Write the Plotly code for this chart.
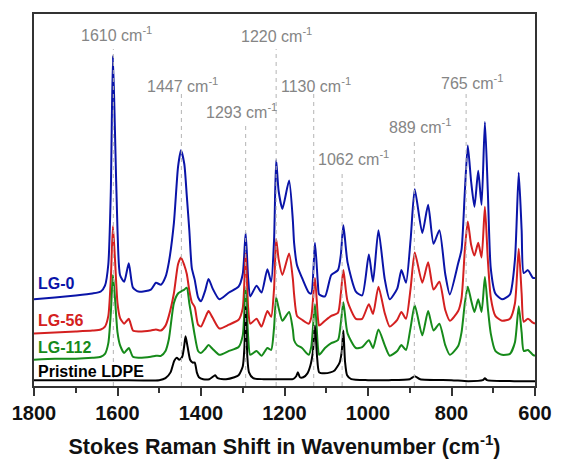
import plotly.graph_objects as go

# Raman shift grid (cm^-1) shared by the LG spectra
wn = [1800, 1750, 1700, 1660, 1640, 1630, 1622, 1616, 1611, 1606, 1600, 1594, 1584, 1573, 1563, 1550,
      1520, 1508, 1496, 1485, 1477, 1465, 1455, 1448, 1440, 1434, 1428, 1422, 1415, 1407, 1400, 1390,
      1382, 1372, 1356, 1333, 1310, 1300, 1293, 1287, 1282, 1267, 1255, 1241, 1232, 1225, 1220, 1214,
      1205, 1189, 1180, 1177, 1170, 1158, 1142, 1136, 1127, 1120, 1117, 1103, 1088, 1072, 1065, 1059,
      1049, 1029, 1014, 998, 988, 975, 960, 948, 930, 920, 909, 898, 888, 870, 856, 843,
      829, 815, 804, 784, 776, 768, 761, 753, 745, 736, 728, 720, 713, 706, 695, 679,
      660, 648, 639, 632, 627, 617, 605, 600]

lg0 = [89, 91, 93, 95, 97, 103, 125, 200, 339, 260, 160, 114, 107, 126, 101, 97,
       99, 106, 104, 112, 127, 167, 225, 242, 228, 195, 160, 121, 109, 91, 87, 98,
       110, 100, 89, 96, 102, 115, 157, 110, 92, 103, 96, 120, 107, 150, 232, 200,
       182, 211, 170, 147, 124, 111, 96, 95, 147, 105, 94, 92, 114, 119, 135, 165,
       127, 97, 93, 135, 107, 160, 110, 89, 100, 119, 106, 150, 202, 157, 186, 146,
       160, 115, 94, 126, 140, 200, 247, 210, 184, 221, 186, 271, 200, 121, 95, 89,
       94, 130, 219, 160, 116, 119, 111, 111]

lg56 = [54, 55, 56, 57, 58, 61, 72, 110, 164, 130, 85, 70, 64, 69, 57, 56,
        57, 58, 57, 62, 72, 95, 125, 132, 124, 115, 98, 86, 81, 63, 61, 70,
        77, 70, 59, 63, 68, 80, 136, 80, 64, 69, 61, 77, 71, 100, 151, 130,
        114, 136, 110, 94, 72, 68, 64, 70, 111, 70, 62, 67, 72, 75, 95, 119,
        87, 69, 69, 84, 74, 102, 75, 61, 68, 76, 69, 100, 137, 106, 127, 99,
        107, 78, 67, 77, 90, 140, 169, 145, 134, 147, 132, 184, 130, 91, 72, 67,
        69, 85, 141, 95, 66, 69, 65, 64]

lg112 = [27, 28, 28, 29, 30, 33, 44, 75, 114, 90, 55, 42, 34, 39, 30, 29,
         30, 31, 31, 36, 48, 85, 95, 97, 99, 101, 85, 70, 52, 36, 34, 38,
         42, 38, 32, 36, 40, 52, 101, 50, 32, 36, 31, 39, 37, 60, 91, 80,
         67, 76, 58, 47, 42, 39, 32, 40, 84, 40, 32, 39, 44, 47, 65, 86,
         54, 39, 40, 47, 39, 58, 42, 31, 36, 42, 37, 60, 83, 52, 77, 57,
         64, 42, 32, 41, 55, 85, 102, 88, 76, 89, 76, 112, 80, 54, 36, 32,
         33, 45, 82, 55, 36, 37, 32, 31]

# Pristine LDPE spectrum
wn_ldpe = [1800, 1700, 1600, 1500, 1485, 1473, 1464, 1458, 1452, 1445, 1440, 1437, 1432, 1426, 1420, 1415,
           1410, 1405, 1395, 1380, 1370, 1366, 1360, 1340, 1320, 1310, 1300, 1296, 1293, 1289, 1285, 1275,
           1250, 1200, 1180, 1172, 1168, 1163, 1155, 1145, 1138, 1132, 1127, 1122, 1117, 1105, 1090, 1080,
           1068, 1063, 1059, 1055, 1050, 1040, 1000, 950, 900, 888, 875, 800, 760, 725, 720, 715, 650, 600]
ldpe = [6, 6, 6, 6, 8, 14, 26, 29, 27, 30, 42, 51, 40, 27, 24, 24,
        14, 9, 7, 7, 10, 11, 8, 7, 9, 11, 20, 40, 81, 30, 14, 8,
        7, 7, 7, 10, 14, 9, 9, 13, 21, 35, 62, 30, 14, 13, 14, 16,
        24, 35, 57, 25, 11, 7, 6, 6, 7, 10, 7, 6, 5, 6, 8, 6, 5, 5]

series_names = ["LG-0", "LG-56", "LG-112", "Pristine LDPE"]
series_colors = ["#0a14a8", "#d42020", "#168a1a", "#000000"]

# Marked bands and label heights (axis units)
band_pos = [1610, 1447, 1293, 1220, 1130, 1062, 889, 765]
band_text = ["1610 cm<sup>-1</sup>", "1447 cm<sup>-1</sup>", "1293 cm<sup>-1</sup>", "1220 cm<sup>-1</sup>",
             "1130 cm<sup>-1</sup>", "1062 cm<sup>-1</sup>", "889 cm<sup>-1</sup>", "765 cm<sup>-1</sup>"]
band_label_y = [361, 309, 282, 360, 309, 234, 267, 312]
band_line_top = [346, 302, 270, 346, 301, 219, 254, 304]
band_shift = [3, 1, -4, 0, 2, 11, 6, 6]

# Series label heights
label_y = [105, 67, 40, 15]

fig = go.Figure()
for name, ys, col in zip(series_names[:3], [lg0, lg56, lg112], series_colors[:3]):
    fig.add_trace(go.Scatter(x=wn, y=ys, mode="lines", name=name,
                             line=dict(color=col, width=2, shape="spline", smoothing=0.6)))
fig.add_trace(go.Scatter(x=wn_ldpe, y=ldpe, mode="lines", name=series_names[3],
                         line=dict(color=series_colors[3], width=2, shape="spline", smoothing=0.6)))

for p, t, ly, lt, sh in zip(band_pos, band_text, band_label_y, band_line_top, band_shift):
    fig.add_shape(type="line", x0=p, x1=p, y0=0, y1=lt, xref="x", yref="y",
                  line=dict(color="#b4b4b4", width=1, dash="4px,4px"), layer="above")
    fig.add_annotation(x=p, y=ly, text=t, showarrow=False, xshift=sh,
                       font=dict(family="Liberation Sans, Arial", size=16, color="#858585"))

for name, ly, col in zip(series_names, label_y, series_colors):
    fig.add_annotation(x=1796, y=ly, text=name, showarrow=False, xanchor="left",
                       font=dict(family="Liberation Sans, Arial", size=16, color=col, weight="bold"))

fig.update_layout(
    width=564, height=467,
    margin=dict(l=33, r=17, t=12, b=73),
    paper_bgcolor="white", plot_bgcolor="white",
    showlegend=False,
    font=dict(family="Liberation Sans, Arial", color="#111"),
)
fig.update_xaxes(
    range=[1800, 600], autorange=False,
    showline=True, mirror=True, linewidth=2, linecolor="#333",
    showgrid=False, zeroline=False,
    ticks="outside", ticklen=8, tickwidth=1.5, tickcolor="#333",
    tickvals=[1800, 1600, 1400, 1200, 1000, 800, 600],
    tickfont=dict(size=20, weight="bold", color="#111"),
    minor=dict(ticks="outside", ticklen=5, tickwidth=1.5, tickcolor="#333", dtick=100, showgrid=False),
    title=dict(text="Stokes Raman Shift in Wavenumber (cm<sup>-1</sup>)",
               font=dict(size=21.5, weight="bold", color="#111"), standoff=16),
)
fig.update_yaxes(
    range=[0, 382], autorange=False,
    showline=True, mirror=True, linewidth=2, linecolor="#333",
    showgrid=False, zeroline=False, showticklabels=False, ticks="",
)

fig.write_html("out.html")
